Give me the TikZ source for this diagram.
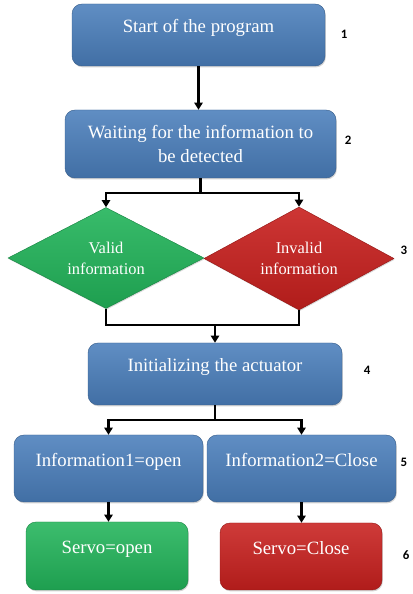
\documentclass[tikz,border=0pt]{standalone}
\usepackage{fontspec}
\setmainfont{Liberation Serif}
\newfontfamily\numfont{Carlito}
\usetikzlibrary{shapes.geometric,arrows.meta,shadows}

\begin{document}
\begin{tikzpicture}[
		box/.style={rectangle, rounded corners=0.3cm, draw=#1!75!black, line width=0.4pt,
			top color=#1!88!white, bottom color=#1!88!black, text=white, align=center,
			font=\fontsize{16}{20.4}\selectfont, inner sep=2pt,
			drop shadow={opacity=0.35, shadow xshift=0.7pt, shadow yshift=-1.2pt}},
		raised/.style={text depth=15pt},
		decision/.style={diamond, aspect=2, inner sep=1pt, draw=#1!75!black, line width=0.4pt,
			top color=#1!90!white, bottom color=#1!88!black, text=white, align=center,
			font=\fontsize{14}{17.9}\selectfont,
			drop shadow={opacity=0.3, shadow xshift=0.6pt, shadow yshift=-1pt}},
		stepno/.style={anchor=west, font=\numfont\bfseries\fontsize{11}{13}\selectfont},
		line/.style={black, line width=1.8pt},
		flow/.style={line, -{Triangle[width=7pt,length=6pt]}}
	]

		\definecolor{blueBox}{RGB}{74,126,187}
		\definecolor{greenBox}{RGB}{34,180,90}
		\definecolor{redBox}{RGB}{200,32,30}

		\useasboundingbox (0,0) rectangle (12.36,17.82);

		% boxes
		\node[box=blueBox, raised, minimum width=7.59cm, minimum height=1.86cm] (start) at (5.955,16.77) {Start of the program};
		\node[box=blueBox, minimum width=8.13cm, minimum height=2.04cm] (wait) at (6.015,13.5) {Waiting for the information to\\be detected};
		\node[decision=greenBox, minimum width=5.88cm, minimum height=3.03cm] (valid) at (3.18,10.08) {Valid\\information};
		\node[decision=redBox, minimum width=5.7cm, minimum height=3.09cm] (invalid) at (8.97,10.065) {Invalid\\information};
		\node[box=blueBox, raised, minimum width=7.62cm, minimum height=1.86cm] (init) at (6.45,6.6) {Initializing the actuator};
		\node[box=blueBox, raised, minimum width=5.67cm, minimum height=2.01cm] (info1) at (3.255,3.765) {Information1=open};
		\node[box=blueBox, raised, minimum width=5.67cm, minimum height=2.01cm] (info2) at (9.045,3.765) {Information2=Close};
		\node[box=greenBox, raised, minimum width=4.86cm, minimum height=2.04cm] (servo1) at (3.21,1.14) {Servo=open};
		\node[box=redBox, raised, minimum width=4.86cm, minimum height=2.01cm] (servo2) at (9.03,1.125) {Servo=Close};

		% step numbers
		\node[stepno] (n1) at (10.1,16.8) {1};
		\node[stepno] (n2) at (10.22,13.62) {2};
		\node[stepno, anchor=east] (n3) at (12.34,10.32) {3};
		\node[stepno] (n4) at (10.79,6.72) {4};
		\node[stepno, anchor=east] (n5) at (12.34,3.96) {5};
		\node[stepno] (n6) at (11.96,1.17) {6};

		% connectors
		\draw[flow] (start.south) -- (start.south |- wait.north);
		\draw[line] (wait.south) -- ++(0,-0.45) coordinate (fork1);
		\draw[flow] (fork1) -| (valid.north);
		\draw[flow] (fork1) -| (invalid.north);
		\draw[line] (valid.south) -- ++(0,-0.5) coordinate (join1) -| (invalid.south);
		\draw[flow] (join1 -| init.north) -- (init.north);
		\draw[line] (init.south) -- ++(0,-0.45) coordinate (fork2);
		\draw[flow] (fork2) -| (info1.north);
		\draw[flow] (fork2) -| (info2.north);
		\draw[flow] (info1.south) -- (info1.south |- servo1.north);
		\draw[flow] (info2.south) -- (info2.south |- servo2.north);

	\end{tikzpicture}
\end{document}
